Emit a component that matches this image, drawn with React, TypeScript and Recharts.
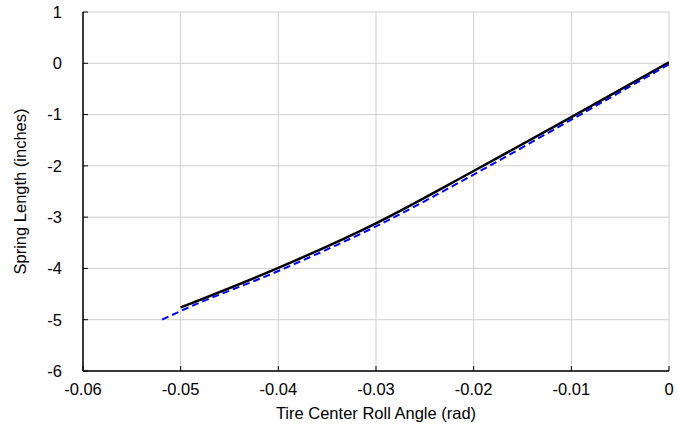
import { LineChart, Line, XAxis, YAxis, CartesianGrid } from "recharts";

const rollAngle = [-0.05, -0.04, -0.03, -0.02, -0.01, 0];
const springA = [-4.76, -3.99, -3.12, -2.1, -1.05, 0.02];

const rollAngleB = [-0.0519, -0.05, -0.04, -0.03, -0.02, -0.01, 0];
const springB = [-5.0, -4.83, -4.05, -3.18, -2.17, -1.1, -0.02];

const xTicks = [-0.06, -0.05, -0.04, -0.03, -0.02, -0.01, 0];
const yTicks = [-6, -5, -4, -3, -2, -1, 0, 1];

const seriesA = rollAngle.map((x, i) => ({ x, y: springA[i] }));
const seriesB = rollAngleB.map((x, i) => ({ x, y: springB[i] }));

const font = { fontSize: 16.5, fill: "#000", fontFamily: "Liberation Sans, Arial, sans-serif" };
const blank = () => "";

export default function App() {
  return (
    <div style={{ position: "absolute", left: 0, top: 0, background: "#fff" }}>
      <LineChart
        width={678}
        height={429}
        margin={{ top: 12, right: 9, bottom: 0, left: 0 }}
      >
        <CartesianGrid xAxisId="bottom" yAxisId="left" stroke="#cfcfcf" strokeWidth={1} />
        <XAxis
          xAxisId="bottom"
          type="number"
          dataKey="x"
          domain={[-0.06, 0]}
          ticks={xTicks}
          tickFormatter={(v) => String(v)}
          height={58}
          tick={font}
          tickSize={-5}
          tickMargin={17}
          tickLine={{ stroke: "#000" }}
          axisLine={{ stroke: "#000", strokeWidth: 1.5 }}
          allowDataOverflow
          label={{
            value: "Tire Center Roll Angle (rad)",
            position: "insideBottom",
            offset: 10,
            style: font,
          }}
        />
        <XAxis
          xAxisId="top"
          orientation="top"
          type="number"
          dataKey="x"
          domain={[-0.06, 0]}
          ticks={xTicks}
          tickFormatter={blank}
          height={0}
          tickSize={-5}
          tickLine={{ stroke: "#000" }}
          axisLine={{ stroke: "#000", strokeWidth: 1.5 }}
          allowDataOverflow
        />
        <YAxis
          yAxisId="left"
          type="number"
          domain={[-6, 1]}
          ticks={yTicks}
          width={83}
          tick={font}
          tickSize={-5}
          tickMargin={26}
          tickLine={{ stroke: "#000" }}
          axisLine={{ stroke: "#000", strokeWidth: 1.5 }}
          allowDataOverflow
          label={{
            value: "Spring Length (inches)",
            angle: -90,
            position: "insideLeft",
            offset: 20,
            style: { ...font, textAnchor: "middle" },
          }}
        />
        <YAxis
          yAxisId="right"
          orientation="right"
          type="number"
          domain={[-6, 1]}
          ticks={yTicks}
          tickFormatter={blank}
          width={0}
          tickSize={-5}
          tickLine={{ stroke: "#000" }}
          axisLine={{ stroke: "#000", strokeWidth: 1.5 }}
          allowDataOverflow
        />
        <Line
          xAxisId="bottom"
          yAxisId="left"
          data={seriesA}
          dataKey="y"
          type="monotone"
          stroke="#000"
          strokeWidth={2.5}
          dot={false}
          isAnimationActive={false}
        />
        <Line
          xAxisId="bottom"
          yAxisId="left"
          data={seriesB}
          dataKey="y"
          type="monotone"
          stroke="#0000ff"
          strokeWidth={2}
          strokeDasharray="7 4"
          dot={false}
          isAnimationActive={false}
        />
      </LineChart>
    </div>
  );
}
